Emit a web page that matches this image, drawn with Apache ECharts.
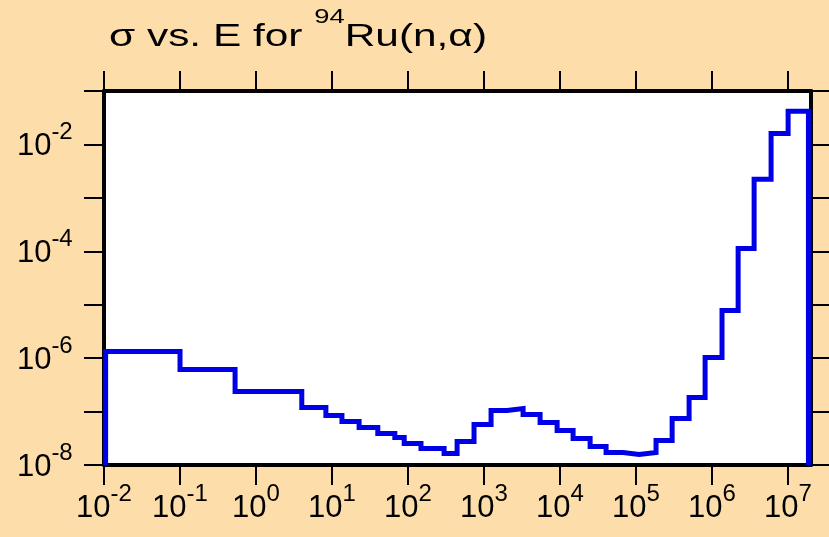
<!DOCTYPE html>
<html>
<head>
<meta charset="utf-8">
<script src="https://cdn.jsdelivr.net/npm/echarts@6/dist/echarts.min.js"></script>
<style>
html,body{margin:0;padding:0;background:#fddeab;}
#c{width:829px;height:537px;}
</style>
</head>
<body>
<div id="c"></div>
<script>
// Bin edges (eV) and cross sections (b)
var binEdges = [0.0105, 0.1, 0.53, 4.0, 8.3, 13.5, 22.7, 40, 67, 89, 148, 298, 442, 738, 1236, 2009, 3261, 5458, 9141, 14830, 24840, 40290, 67450, 1.095e5, 1.83e5, 2.98e5, 4.98e5, 8.09e5, 1.35e6, 2.2e6, 3.57e6, 5.97e6, 1.0e7, 1.85e7];
var sigmaValues = [1.33e-6, 6.1e-7, 2.38e-7, 1.19e-7, 8.45e-8, 6.5e-8, 5.04e-8, 3.89e-8, 3.27e-8, 2.53e-8, 2.04e-8, 1.64e-8, 2.75e-8, 5.73e-8, 1.05e-7, 1.14e-7, 8.83e-8, 6.25e-8, 4.43e-8, 3.14e-8, 2.22e-8, 1.71e-8, 1.57e-8, 1.71e-8, 2.88e-8, 7.43e-8, 1.84e-7, 1.03e-6, 7.82e-6, 1.13e-4, 2.22e-3, 1.61e-2, 4.17e-2];
var xTickValues = [1e-2, 1e-1, 1e0, 1e1, 1e2, 1e3, 1e4, 1e5, 1e6, 1e7];
var yTickValues = [1e-8, 1e-7, 1e-6, 1e-5, 1e-4, 1e-3, 1e-2, 1e-1];
var yLabelValues = [1e-8, 1e-6, 1e-4, 1e-2];
var xRange = [1e-2, 2e7];
var yRange = [1e-8, 1e-1];
var titleParts = ['σ vs. E for ', '94', 'Ru(n,α)'];

var pts = [[binEdges[0], yRange[0]]];
for (var i = 0; i < sigmaValues.length; i++) pts.push([binEdges[i], sigmaValues[i]]);
var n = binEdges.length - 1;
pts.push([binEdges[n], sigmaValues[n - 1]]);
pts.push([binEdges[n], yRange[0]]);

var FONT = 'Liberation Sans';
function pow10(v) {
  var e = Math.round(Math.log(v) / Math.LN10);
  return '{b|10}{s|' + e + '}{z| }';
}
var rich = {
  b: {fontSize: 31, lineHeight: 31, fontFamily: FONT, color: '#000', verticalAlign: 'bottom'},
  s: {fontSize: 24, lineHeight: 24, fontFamily: FONT, color: '#000', verticalAlign: 'top'},
  z: {fontSize: 1, lineHeight: 42, fontFamily: FONT, color: 'rgba(0,0,0,0)'}
};
var axisLineStyle = {show: true, onZero: false, lineStyle: {color: '#000', width: 4}};
var tickStyle = {lineStyle: {color: '#000', width: 2}, length: 20, inside: false};

function xAx(pos, labels) {
  return {
    type: 'log', logBase: 10, position: pos, min: xRange[0], max: xRange[1],
    axisLine: axisLineStyle,
    axisTick: Object.assign({show: true, customValues: xTickValues}, tickStyle),
    axisLabel: labels ? {show: true, customValues: xTickValues, formatter: pow10, rich: rich, margin: 17, fontFamily: FONT} : {show: false},
    splitLine: {show: false}, minorTick: {show: false}, minorSplitLine: {show: false}
  };
}
function yAx(pos, labels) {
  return {
    type: 'log', logBase: 10, position: pos, min: yRange[0], max: yRange[1],
    axisLine: axisLineStyle,
    axisTick: Object.assign({show: true, customValues: yTickValues}, tickStyle),
    axisLabel: labels ? {show: true, customValues: yLabelValues, formatter: pow10, rich: rich, margin: 31, padding: [0, 0, 6, 0], fontFamily: FONT} : {show: false},
    splitLine: {show: false}, minorTick: {show: false}, minorSplitLine: {show: false}
  };
}

// title stretched horizontally to the reference width
var mc = document.createElement('canvas').getContext('2d');
mc.font = '31px "Liberation Sans"';
var wMain = mc.measureText(titleParts[0] + titleParts[2]).width;
mc.font = '20px "Liberation Sans"';
var wSup = mc.measureText(titleParts[1]).width;
var titleScale = 378 / (wMain + wSup);

var chart = echarts.init(document.getElementById('c'), null, {renderer: 'canvas'});
chart.setOption({
  backgroundColor: '#fddeab',
  animation: false,
  grid: {left: 104, right: 18, top: 91, bottom: 72, show: true, backgroundColor: '#fff', borderWidth: 0},
  xAxis: [xAx('bottom', true), xAx('top', false)],
  yAxis: [yAx('left', true), yAx('right', false)],
  graphic: [{
    type: 'text', x: 109, y: 7, scaleX: titleScale, scaleY: 1,
    style: {
      text: '{a|' + titleParts[0] + '}{s|' + titleParts[1] + '}{a|' + titleParts[2] + '}{z| }',
      fill: '#000',
      rich: {
        a: {fontSize: 31, lineHeight: 31, fontFamily: FONT, fill: '#000', verticalAlign: 'bottom'},
        s: {fontSize: 20, lineHeight: 20, fontFamily: FONT, fill: '#000', verticalAlign: 'top'},
        z: {fontSize: 1, lineHeight: 46, fontFamily: FONT, fill: 'rgba(0,0,0,0)'}
      }
    }
  }],
  series: [{
    type: 'line', xAxisIndex: 0, yAxisIndex: 0, step: 'end', data: pts,
    symbol: 'none', showSymbol: false, clip: true,
    lineStyle: {color: '#0000e6', width: 5, join: 'miter', cap: 'butt'}
  }]
});
</script>
</body>
</html>
